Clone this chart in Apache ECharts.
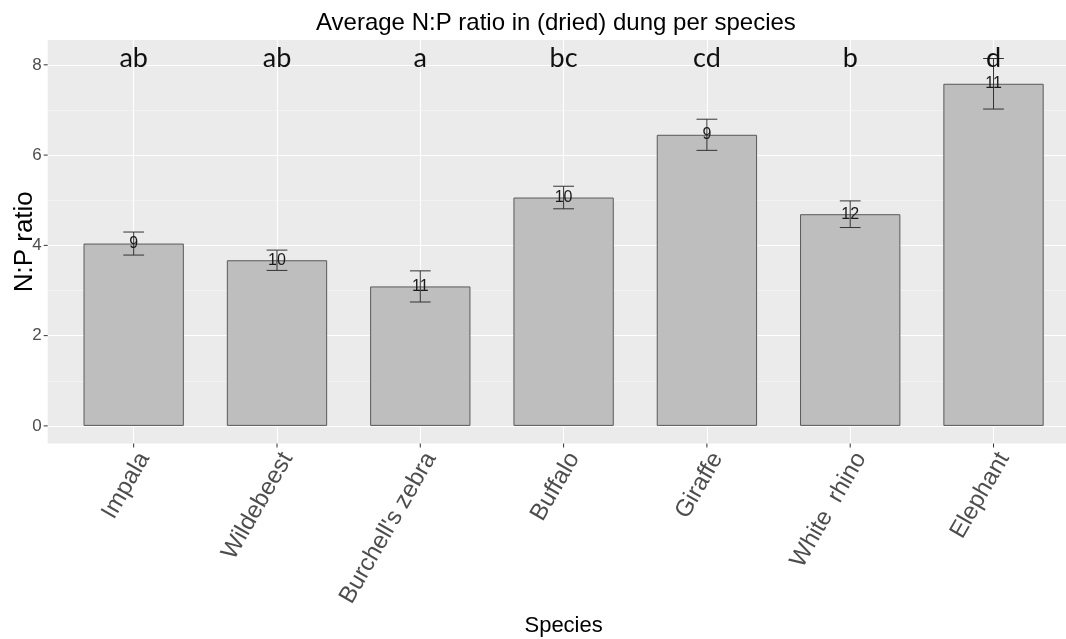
<!DOCTYPE html>
<html><head><meta charset="utf-8">
<script src="https://cdn.jsdelivr.net/npm/echarts@6/dist/echarts.min.js"></script>
<style>html,body{margin:0;padding:0;background:#fff}#c{width:1066px;height:639px}</style>
</head><body><div id="c"></div>
<script>
const species = ['Impala', 'Wildebeest', "Burchell's zebra", 'Buffalo', 'Giraffe', 'White  rhino', 'Elephant'];
const meanNP = [4.04, 3.67, 3.09, 5.06, 6.45, 4.69, 7.58];
const errNP = [0.255, 0.225, 0.345, 0.25, 0.345, 0.295, 0.56];
const sampleN = [9, 10, 11, 10, 9, 12, 11];
const groupLetters = ['ab', 'ab', 'a', 'bc', 'cd', 'b', 'd'];
const LETTER_Y = 8.15;
const yTicks = [0, 2, 4, 6, 8];
const yMinor = [1, 3, 5, 7];
const xIdx = species.map((_, i) => i);

const FONT = '"Liberation Sans", Arial, sans-serif';
const chart = echarts.init(document.getElementById('c'), null, {renderer: 'canvas'});

const Y_MIN = -0.39, Y_MAX = 8.55, X_MIN = -0.6, X_MAX = 6.6;
const TICK_LEN = 4;

chart.setOption({
  animation: false,
  title: {
    text: 'Average N:P ratio in (dried) dung per species',
    left: 311, top: 6,
    textStyle: {fontFamily: FONT, fontSize: 24, fontWeight: 'normal', color: '#000'}
  },
  grid: {left: 47.7, top: 40, width: 1031.8, bottom: 195.5, show: true,
         backgroundColor: '#EBEBEB', borderWidth: 0, outerBoundsMode: 'none', containLabel: false},
  xAxis: {
    type: 'value', min: X_MIN, max: X_MAX,
    name: 'Species', nameLocation: 'middle', nameGap: 168,
    nameTextStyle: {fontFamily: FONT, fontSize: 22, color: '#000'},
    axisLine: {show: false},
    axisTick: {show: false, customValues: xIdx},
    axisLabel: {customValues: xIdx, formatter: v => species[Math.round(v)] || '',
      rotate: 60, align: 'right', verticalAlign: 'top', margin: 5,
      fontFamily: FONT, fontSize: 24, color: '#4D4D4D'},
    splitLine: {show: true, lineStyle: {color: '#FFFFFF', width: 1.1}}
  },
  yAxis: [{
    type: 'value', min: Y_MIN, max: Y_MAX,
    name: 'N:P ratio', nameLocation: 'middle', nameGap: 10, nameRotate: 90, nameMoveOverlap: false,
    nameTextStyle: {fontFamily: FONT, fontSize: 26, color: '#000'},
    axisLine: {show: false},
    axisTick: {show: false, customValues: yTicks},
    axisLabel: {customValues: yTicks, margin: 6, fontFamily: FONT, fontSize: 17, color: '#4D4D4D'},
    splitLine: {show: true, lineStyle: {color: '#FFFFFF', width: 1.1}}
  }, {
    type: 'value', min: Y_MIN, max: Y_MAX, position: 'left',
    axisLine: {show: false},
    axisTick: {show: false, customValues: yMinor},
    axisLabel: {show: false, customValues: yMinor},
    splitLine: {show: true, lineStyle: {color: '#F7F7F7', width: 0.6}}
  }],
  series: [{
    type: 'bar',
    data: meanNP.map((v, i) => [i, v]),
    barWidth: '70%',
    itemStyle: {color: '#BEBEBE', borderColor: '#595959', borderWidth: 1},
    z: 2
  }, {
    // axis ticks (x)
    type: 'custom', silent: true, clip: false,
    data: xIdx.map(i => [i, Y_MIN]),
    renderItem: function (params, api) {
      const p = api.coord([api.value(0), api.value(1)]);
      return {type: 'line', shape: {x1: p[0], y1: p[1], x2: p[0], y2: p[1] + TICK_LEN},
              style: {stroke: '#333', lineWidth: 1}};
    },
    z: 1
  }, {
    // axis ticks (y)
    type: 'custom', silent: true, clip: false,
    data: yTicks.map(v => [X_MIN, v]),
    renderItem: function (params, api) {
      const p = api.coord([api.value(0), api.value(1)]);
      return {type: 'line', shape: {x1: p[0] - TICK_LEN, y1: p[1], x2: p[0], y2: p[1]},
              style: {stroke: '#333', lineWidth: 1}};
    },
    z: 1
  }, {
    type: 'custom',
    data: meanNP.map((v, i) => [i, v, errNP[i]]),
    renderItem: function (params, api) {
      const i = api.value(0), m = api.value(1), e = api.value(2);
      const top = api.coord([i, m + e]);
      const bot = api.coord([i, m - e]);
      const hw = api.size([0.0725, 0])[0];
      const style = {stroke: '#333', lineWidth: 1};
      return {type: 'group', children: [
        {type: 'line', shape: {x1: top[0], y1: top[1], x2: bot[0], y2: bot[1]}, style},
        {type: 'line', shape: {x1: top[0] - hw, y1: top[1], x2: top[0] + hw, y2: top[1]}, style},
        {type: 'line', shape: {x1: bot[0] - hw, y1: bot[1], x2: bot[0] + hw, y2: bot[1]}, style}
      ]};
    },
    z: 3
  }, {
    type: 'custom',
    data: meanNP.map((v, i) => [i, v, sampleN[i]]),
    renderItem: function (params, api) {
      const p = api.coord([api.value(0), api.value(1)]);
      return {type: 'text', x: p[0], y: p[1], style: {
        text: String(sampleN[params.dataIndex]), align: 'center', verticalAlign: 'middle',
        font: '16px ' + FONT, fill: '#1A1A1A'}};
    },
    z: 4
  }, {
    type: 'custom',
    data: groupLetters.map((l, i) => [i, LETTER_Y]),
    renderItem: function (params, api) {
      const p = api.coord([api.value(0), api.value(1)]);
      return {type: 'text', x: p[0], y: p[1], style: {
        text: groupLetters[params.dataIndex], align: 'center', verticalAlign: 'middle',
        font: '27px Lato, "Open Sans", sans-serif', fill: '#111'}};
    },
    z: 4
  }]
});
</script></body></html>
